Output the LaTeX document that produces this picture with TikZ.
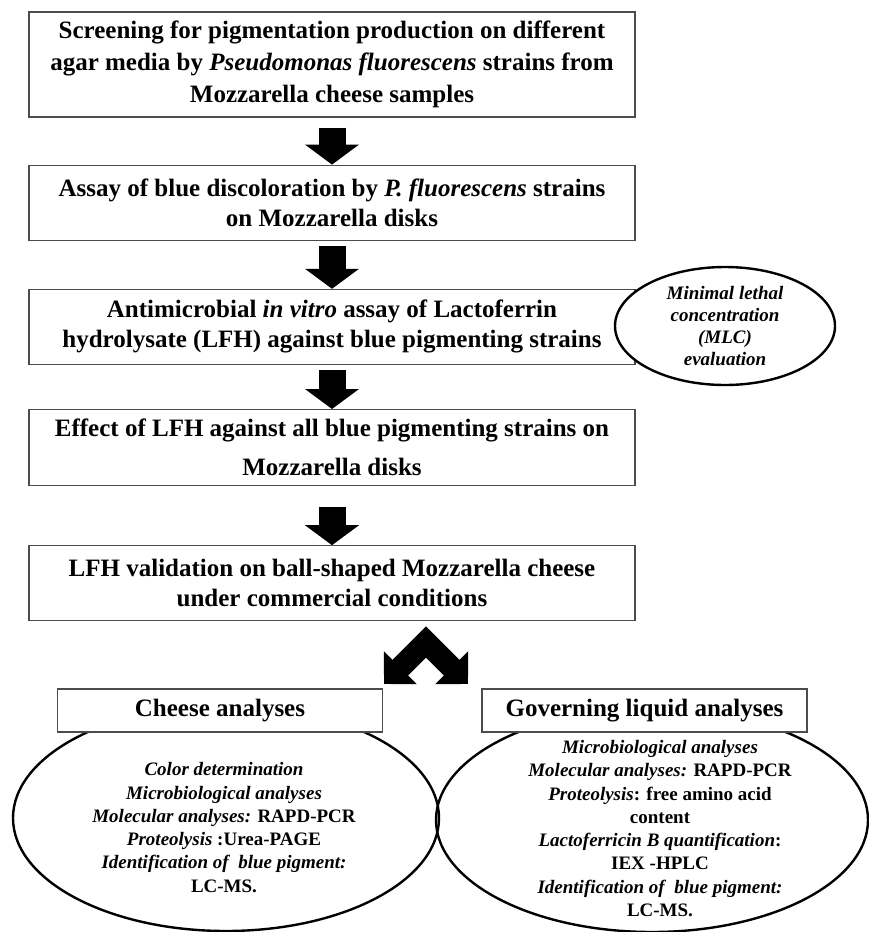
\documentclass[tikz,border=0pt]{standalone}
\usepackage{fontspec}
\setmainfont{Liberation Serif}
\usetikzlibrary{positioning, shapes.geometric, arrows.meta}

\begin{document}
\begin{tikzpicture}
	[x=1pt, y=-1pt,
	stepbox/.style={draw=black!70, line width=1.2pt, fill=white, minimum width=606pt, minimum height=75pt, inner sep=1pt, align=center, font=\fontsize{25}{30}\selectfont\bfseries},
	headbox/.style={draw=black!70, line width=1.2pt, fill=white, minimum width=325pt, minimum height=43pt, inner sep=1pt, font=\fontsize{25}{30}\selectfont\bfseries},
	oval/.style={ellipse, draw, line width=2.4pt, fill=white, inner sep=0pt},
	ovaltext/.style={align=center, font=\fontsize{19}{23.3}\selectfont\bfseries},
	fatarrow/.style={line width=27pt, -{Triangle[length=20pt 0 0, width=53pt 0 0]}},
	forkarrow/.style={line width=22pt, line join=miter, {Triangle[length=23pt 0 0, width=45pt 0 0]}-{Triangle[length=23pt 0 0, width=45pt 0 0]}}]
	\useasboundingbox (0,0) rectangle (869,932);

   \node[stepbox, minimum height=105pt, font=\fontsize{25}{32}\selectfont\bfseries] (screen) at (332,64.5) {Screening for pigmentation production on different\\ agar media by \textit{Pseudomonas fluorescens} strains from\\ Mozzarella cheese samples};
   \node[stepbox] (disc) [below=47pt of screen] {Assay of blue discoloration by \textit{P. fluorescens} strains\\ on Mozzarella disks};
   \node[stepbox] (invitro) [below=48pt of disc] {Antimicrobial \textit{in vitro} assay of Lactoferrin\\ hydrolysate (LFH) against blue pigmenting strains};
   \node[oval, minimum width=220pt, minimum height=118pt, font=\fontsize{19}{22}\selectfont\bfseries\itshape, align=center] (mlc) at (725,326) {Minimal lethal\\ concentration\\ (MLC)\\ evaluation};
   \node[stepbox, minimum height=76pt] (disks) [below=44pt of invitro] {Effect of LFH against all blue pigmenting strains on\\[9pt] Mozzarella disks};
   \node[stepbox] (ball) [below=59pt of disks] {LFH validation on ball-shaped Mozzarella cheese\\ under commercial conditions};

   \node[oval, minimum width=426pt, minimum height=226pt] (cheeseoval) at (226,818) {};
   \node[oval, minimum width=432pt, minimum height=224pt, fill=none] (liquidoval) at (652,820) {};
   \node[headbox] (cheese) at (220,710.5) {Cheese analyses};
   \node[headbox] (liquid) at (644.5,710.5) {Governing liquid analyses};
   \node[ovaltext] (cheeselist) at (224,827.5) {\textit{Color determination}\\ \textit{Microbiological analyses}\\ \textit{Molecular analyses:} RAPD-PCR\\ \textit{Proteolysis} :Urea-PAGE\\ \textit{Identification of\ \ blue pigment:}\\ LC-MS.};
   \node[ovaltext] (liquidlist) at (660,828.5) {\textit{Microbiological analyses}\\ \textit{Molecular analyses:} RAPD-PCR\\ \textit{Proteolysis}: free amino acid\\ content\\ \textit{Lactoferricin B quantification}:\\ IEX -HPLC\\ \textit{Identification of\ \ blue pigment:}\\ LC-MS.};

   \draw[fatarrow] ([yshift=-10pt]screen.south) -- (disc.north);
   \draw[fatarrow] ([yshift=-5pt]disc.south) -- (invitro.north);
   \draw[fatarrow] ([yshift=-5pt]invitro.south) -- (disks.north);
   \draw[fatarrow] ([yshift=-21pt]disks.south) -- (ball.north);

   \coordinate (fork) at (426,642);
   \coordinate (forkleft) at (384,684);
   \coordinate (forkright) at (468,684);
   \draw[forkarrow] (forkleft) -- (fork) -- (forkright);
\end{tikzpicture}
\end{document}
